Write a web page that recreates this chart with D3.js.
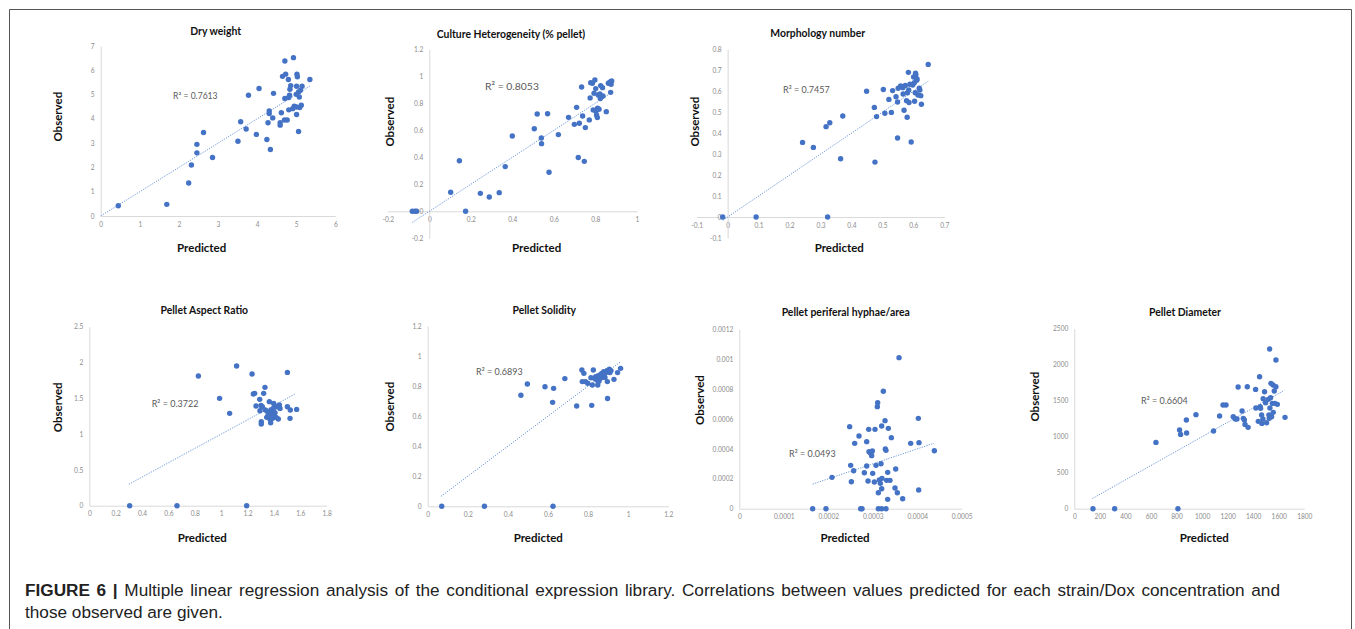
<!DOCTYPE html>
<html>
<head>
<meta charset="utf-8">
<script src="https://cdn.jsdelivr.net/npm/d3@7"></script>
<style>
  html, body { margin: 0; padding: 0; background: #fff; }
  svg { display: block; }
</style>
</head>
<body>
<svg id="chart" width="1355" height="629"></svg>
<script>
// ---------------- DATA ----------------
const titles = ["Dry weight", "Culture Heterogeneity (% pellet)", "Morphology number",
  "Pellet Aspect Ratio", "Pellet Solidity", "Pellet periferal hyphae/area", "Pellet Diameter"];
const r2Labels = ["0.7613", "0.8053", "0.7457", "0.3722", "0.6893", "0.0493", "0.6604"];

// Dry weight
const dryPred = [0.45,1.69,2.25,2.32,2.46,2.46,2.63,2.86,3.51,3.58,3.72,3.78,3.98,4.05,4.25,4.28,4.31,4.31,4.34,4.40,4.42,4.59,4.59,4.62,4.65,4.70,4.71,4.71,4.73,4.77,4.80,4.81,4.81,4.83,4.84,4.86,4.91,4.93,4.95,5.00,5.01,5.01,5.01,5.02,5.03,5.06,5.06,5.08,5.09,5.11,5.13,5.15,5.35];
const dryObs  = [0.42,0.48,1.36,2.10,2.95,2.60,3.44,2.41,3.08,3.88,3.58,4.97,3.36,5.25,3.15,3.84,4.33,4.22,2.74,4.04,5.05,3.84,3.74,4.25,5.75,3.95,6.38,4.84,5.84,3.95,5.62,4.88,4.37,4.97,5.22,5.37,4.42,6.52,4.52,5.01,5.34,4.18,4.49,5.84,5.73,5.11,3.48,4.90,4.47,5.18,4.56,5.34,5.62];
const dryTrend = [0, 5.36];
const dryXTicks = [0,1,2,3,4,5,6];
const dryYTicks = [0,1,2,3,4,5,6,7];

// Culture heterogeneity
const hetPred = [-0.082,-0.069,-0.061,0.103,0.145,0.175,0.246,0.289,0.337,0.366,0.400,0.506,0.520,0.540,0.541,0.570,0.577,0.622,0.671,0.699,0.710,0.718,0.723,0.734,0.739,0.747,0.752,0.771,0.775,0.778,0.786,0.790,0.794,0.798,0.802,0.803,0.806,0.810,0.811,0.814,0.818,0.822,0.824,0.826,0.830,0.835,0.837,0.853,0.863,0.871,0.874,0.876,0.879];
const hetObs  = [0,0,0,0.141,0.375,0,0.133,0.106,0.138,0.331,0.558,0.612,0.721,0.543,0.501,0.723,0.289,0.568,0.696,0.644,0.770,0.398,0.652,0.921,0.706,0.370,0.620,0.677,0.840,0.953,0.948,0.751,0.874,0.973,0.909,0.741,0.714,0.694,0.763,0.862,0.756,0.869,0.835,0.931,0.849,0.916,0.854,0.738,0.948,0.958,0.881,0.941,0.965];
const hetTrend = [-0.082, 0.879];
const hetXTicks = [-0.2,0,0.2,0.4,0.6,0.8,1];
const hetYTicks = [-0.2,0,0.2,0.4,0.6,0.8,1,1.2];

// Morphology number
const morPred = [-0.016,0.092,0.323,0.242,0.277,0.318,0.330,0.365,0.372,0.449,0.474,0.476,0.481,0.503,0.508,0.529,0.521,0.533,0.544,0.549,0.549,0.551,0.559,0.566,0.567,0.570,0.574,0.578,0.580,0.581,0.584,0.585,0.586,0.589,0.593,0.598,0.601,0.603,0.604,0.606,0.607,0.608,0.611,0.612,0.615,0.619,0.621,0.624,0.626,0.648];
const morObs  = [0,0,0,0.356,0.332,0.431,0.450,0.278,0.482,0.600,0.523,0.262,0.479,0.608,0.495,0.499,0.561,0.603,0.574,0.549,0.377,0.614,0.625,0.617,0.587,0.509,0.627,0.555,0.476,0.593,0.690,0.606,0.546,0.633,0.358,0.630,0.668,0.641,0.552,0.593,0.686,0.678,0.652,0.658,0.582,0.614,0.606,0.579,0.538,0.728];
const morTrend = [-0.016, 0.648];
const morXTicks = [-0.1,0,0.1,0.2,0.3,0.4,0.5,0.6,0.7];
const morYTicks = [-0.1,0,0.1,0.2,0.3,0.4,0.5,0.6,0.7,0.8];

// Pellet aspect ratio
const aspPred = [0.306,0.665,1.193,0.827,0.988,1.064,1.117,1.234,1.244,1.254,1.264,1.292,1.294,1.302,1.304,1.304,1.312,1.322,1.332,1.335,1.345,1.352,1.357,1.365,1.370,1.370,1.375,1.378,1.383,1.388,1.390,1.395,1.398,1.400,1.408,1.416,1.421,1.433,1.441,1.446,1.502,1.502,1.522,1.524,1.572];
const aspObs  = [0,0,0,1.811,1.499,1.290,1.951,1.839,1.560,1.569,1.392,1.485,1.327,1.401,1.173,1.141,1.383,1.569,1.653,1.336,1.234,1.313,1.266,1.453,1.206,1.290,1.159,1.336,1.243,1.280,1.220,1.359,1.429,1.266,1.299,1.234,1.383,1.210,1.406,1.359,1.862,1.383,1.220,1.336,1.345];
const aspTrend = [0.30, 1.565];
const aspXTicks = [0,0.2,0.4,0.6,0.8,1,1.2,1.4,1.6,1.8];
const aspYTicks = [0,0.5,1,1.5,2,2.5];

// Pellet solidity
const solPred = [0.070,0.283,0.625,0.465,0.497,0.585,0.623,0.628,0.684,0.743,0.769,0.771,0.779,0.787,0.798,0.814,0.818,0.821,0.826,0.831,0.838,0.843,0.848,0.848,0.854,0.859,0.862,0.868,0.873,0.878,0.881,0.884,0.889,0.894,0.896,0.897,0.901,0.906,0.909,0.914,0.929,0.947,0.962];
const solObs  = [0,0,0,0.739,0.814,0.796,0.692,0.785,0.850,0.668,0.907,0.830,0.885,0.830,0.819,0.856,0.672,0.807,0.907,0.852,0.863,0.841,0.807,0.867,0.832,0.874,0.852,0.885,0.867,0.896,0.881,0.858,0.890,0.903,0.830,0.717,0.896,0.912,0.890,0.903,0.845,0.890,0.918];
const solTrend = [0.066, 0.962];
const solXTicks = [0,0.2,0.4,0.6,0.8,1,1.2];
const solYTicks = [0,0.2,0.4,0.6,0.8,1,1.2];

// Pellet periferal hyphae/area
const perPred = [0.0001649,0.0001949,0.0002729,0.0002759,0.0003126,0.0003201,0.0003298,0.0002084,0.0002481,0.0002504,0.0002519,0.0002571,0.0002594,0.0002691,0.0002811,0.0002864,0.0002864,0.0002894,0.0002909,0.0002916,0.0002954,0.0002976,0.0002991,0.0002999,0.0003036,0.0003051,0.0003073,0.0003103,0.0003111,0.0003126,0.0003148,0.0003171,0.0003186,0.0003201,0.0003201,0.0003208,0.0003238,0.0003276,0.0003283,0.0003298,0.0003313,0.0003336,0.0003336,0.0003351,0.0003388,0.0003418,0.0003501,0.0003516,0.0003553,0.0003591,0.0003673,0.0003853,0.0004025,0.0004033,0.0004040,0.0004385];
const perObs  = [0,0,0,0,0,0,0,0.0002097,0.0005487,0.0002900,0.0001807,0.0002543,0.0004372,0.0004863,0.0002409,0.0004484,0.0002855,0.0001851,0.0005309,0.0003814,0.0003703,0.0003547,0.0003859,0.0002364,0.0001784,0.0005309,0.0002900,0.0006826,0.0007093,0.0001071,0.0001918,0.0001695,0.0003011,0.0005532,0.0001338,0.0002030,0.0007852,0.0005889,0.0003993,0.0003904,0.0001896,0.0002431,0.0000625,0.0005376,0.0001896,0.0004751,0.0001383,0.0002654,0.0001071,0.0010105,0.0000669,0.0004372,0.0006045,0.0001249,0.0004417,0.0003881];
const perTrend = [0.000165, 0.000438];
const perXTicks = [0,0.0001,0.0002,0.0003,0.0004,0.0005];
const perYTicks = [0,0.0002,0.0004,0.0006,0.0008,0.001,0.0012];

// Pellet diameter
const diaPred = [146,316,811,639,824,832,877,879,952,1090,1137,1164,1187,1244,1260,1273,1282,1313,1323,1331,1336,1360,1354,1419,1421,1440,1450,1455,1458,1466,1468,1476,1478,1489,1497,1505,1518,1523,1526,1529,1531,1536,1539,1544,1550,1555,1557,1565,1570,1578,1578,1589,1649];
const diaObs  = [0,0,0,921,1093,1032,1231,1051,1306,1079,1287,1440,1440,1278,1245,1245,1690,1356,1255,1231,1171,1130,1694,1657,1398,1213,1833,1417,1394,1301,1185,1245,1528,1625,1472,1194,1519,1301,1255,2218,1398,1542,1741,1278,1463,1718,1338,1634,1463,2065,1694,1449,1269];
const diaTrend = [141, 1643];
const diaXTicks = [0,200,400,600,800,1000,1200,1400,1600,1800];
const diaYTicks = [0,500,1000,1500,2000,2500];

const captionBold = "FIGURE 6 |";
const captionLine1 = " Multiple linear regression analysis of the conditional expression library. Correlations between values predicted for each strain/Dox concentration and";
const captionLine2 = "those observed are given.";

// ---------------- LAYOUT (pixels) ----------------
const layouts = [
  {xr:[100.7,335.3], yr:[216,46],     title:[215.7,31],  obs:[58.3,116.7], pred:[201.7,248], r2:[173,96],    r2size:8.6},
  {xr:[387.8,636.8], yr:[238.3,49.3], title:[511,34],    obs:[390,121.7],  pred:[536.7,248], r2:[485,86],    r2size:10.4},
  {xr:[696.7,944.3], yr:[238,49.3],   title:[817.7,33.3],obs:[695,121.7],  pred:[839.3,248], r2:[783,90],    r2size:9},
  {xr:[89.3,326.7],  yr:[505.7,326.7],title:[204.3,310], obs:[58.3,407.3], pred:[202.3,538], r2:[151.7,403.7],r2size:9},
  {xr:[427.7,668.3], yr:[506.3,326],  title:[544.3,310], obs:[390,406.7],  pred:[538.3,538], r2:[476,371.7], r2size:9},
  {xr:[739.3,961.7], yr:[508.7,329.3],title:[845.7,312.7],obs:[700,400],   pred:[845,538],   r2:[789,453.7], r2size:9},
  {xr:[1074.3,1304.3],yr:[508.7,328.7],title:[1185,312.7],obs:[1035,396.7],pred:[1204.3,538],r2:[1141,400.7],r2size:9}
];

const series = [
  {pred:dryPred, obs:dryObs, trend:dryTrend, xt:dryXTicks, yt:dryYTicks},
  {pred:hetPred, obs:hetObs, trend:hetTrend, xt:hetXTicks, yt:hetYTicks},
  {pred:morPred, obs:morObs, trend:morTrend, xt:morXTicks, yt:morYTicks},
  {pred:aspPred, obs:aspObs, trend:aspTrend, xt:aspXTicks, yt:aspYTicks},
  {pred:solPred, obs:solObs, trend:solTrend, xt:solXTicks, yt:solYTicks},
  {pred:perPred, obs:perObs, trend:perTrend, xt:perXTicks, yt:perYTicks},
  {pred:diaPred, obs:diaObs, trend:diaTrend, xt:diaXTicks, yt:diaYTicks}
];

const svg = d3.select("#chart");
svg.append("rect").attr("width",1355).attr("height",629).attr("fill","#fff");

// frame
svg.append("path")
  .attr("d","M9.5,640 L9.5,9.5 L1351.5,9.5 L1351.5,640")
  .attr("fill","none").attr("stroke","#555").attr("stroke-width",1);

const FONT = "Lato, 'Open Sans', sans-serif";
const blue = "#4472C4";

series.forEach((s, i) => {
  const L = layouts[i];
  const xd = d3.extent(s.xt), yd = d3.extent(s.yt);
  const x = d3.scaleLinear().domain(xd).range(L.xr);
  const y = d3.scaleLinear().domain(yd).range(L.yr);
  const g = svg.append("g");

  const xAxis = d3.axisBottom(x).tickValues(s.xt).tickSize(0).tickPadding(6).tickFormat(d => String(d));
  const gx = g.append("g").attr("transform", `translate(0,${y(0)})`).call(xAxis);
  gx.select(".domain").attr("stroke","#d9d9d9").attr("stroke-width",1);
  gx.selectAll("text").attr("fill","#8c8c8c").attr("font-size",6.6).attr("font-family",FONT);

  const yAxis = d3.axisLeft(y).tickValues(s.yt).tickSize(0).tickPadding(6).tickFormat(d => String(d));
  const gy = g.append("g").attr("transform", `translate(${x(0)},0)`).call(yAxis);
  gy.select(".domain").attr("stroke","#d9d9d9").attr("stroke-width",1);
  gy.selectAll("text").attr("fill","#8c8c8c").attr("font-size",6.6).attr("font-family",FONT);

  g.append("line")
    .attr("x1", x(s.trend[0])).attr("y1", y(s.trend[0]))
    .attr("x2", x(s.trend[1])).attr("y2", y(s.trend[1]))
    .attr("stroke","#6a99dc").attr("stroke-width",1)
    .attr("stroke-dasharray","1.2,1.3");

  g.selectAll("circle.pt").data(s.pred.map((p,k)=>[p, s.obs[k]])).join("circle")
    .attr("class","pt")
    .attr("cx", d => x(d[0])).attr("cy", d => y(d[1]))
    .attr("r", 2.7).attr("fill", blue);

  g.append("text").attr("x", L.title[0]).attr("y", L.title[1]).attr("dy","0.35em")
    .attr("text-anchor","middle").attr("font-family",FONT).attr("font-weight","bold")
    .attr("font-size",10.4).attr("fill","#111").text(titles[i]);

  g.append("text").attr("transform",`translate(${L.obs[0]},${L.obs[1]}) rotate(-90)`)
    .attr("dy","0.35em").attr("text-anchor","middle").attr("font-family",FONT)
    .attr("font-weight","bold").attr("font-size",11.5).attr("fill","#111").text("Observed");
  g.append("text").attr("x",L.pred[0]).attr("y",L.pred[1]).attr("dy","0.35em")
    .attr("text-anchor","middle").attr("font-family",FONT)
    .attr("font-weight","bold").attr("font-size",11.5).attr("fill","#111").text("Predicted");

  g.append("text").attr("x",L.r2[0]).attr("y",L.r2[1]).attr("dy","0.35em")
    .attr("font-family",FONT).attr("font-size",L.r2size).attr("fill","#595959")
    .text("R² = " + r2Labels[i]);
});

// caption: first line justified to the frame width
const capFont = "'Liberation Sans', Arial, sans-serif";
const capSize = 17.2;
const cap = svg.append("text").attr("x",25).attr("y",595.5)
  .attr("font-family",capFont).attr("font-size",capSize).attr("fill","#222");
cap.append("tspan").attr("font-weight","bold").text(captionBold);
cap.append("tspan").text(captionLine1);
const w1 = cap.node().getComputedTextLength();
const nSpaces = (captionBold + captionLine1).split(" ").length - 1;
cap.attr("word-spacing", (1255 - w1) / nSpaces);
svg.append("text").attr("x",25).attr("y",617.5)
  .attr("font-family",capFont).attr("font-size",capSize).attr("fill","#222")
  .text(captionLine2);
</script>
</body>
</html>
